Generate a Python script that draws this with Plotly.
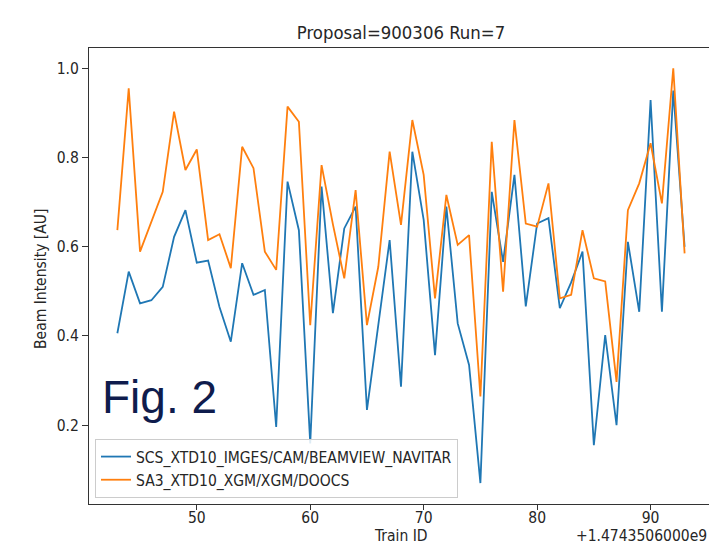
import plotly.graph_objects as go

# ---- data ----
train_offset = 1474350600
train_rel = list(range(43, 94))
scs_navitar = [0.406, 0.544, 0.473, 0.480, 0.510, 0.622, 0.682, 0.564, 0.569, 0.465,
               0.387, 0.563, 0.492, 0.503, 0.196, 0.746, 0.637, 0.159, 0.735, 0.451,
               0.641, 0.690, 0.234, 0.428, 0.615, 0.286, 0.813, 0.660, 0.357, 0.690,
               0.428, 0.335, 0.070, 0.723, 0.566, 0.761, 0.466, 0.652, 0.664, 0.462,
               0.520, 0.589, 0.155, 0.402, 0.200, 0.611, 0.454, 0.929, 0.454, 0.950,
               0.600]
sa3_xgm = [0.637, 0.955, 0.589, 0.656, 0.723, 0.903, 0.772, 0.818, 0.615, 0.628,
           0.552, 0.824, 0.776, 0.589, 0.548, 0.914, 0.880, 0.424, 0.783, 0.650,
           0.529, 0.727, 0.424, 0.555, 0.813, 0.649, 0.884, 0.761, 0.484, 0.716,
           0.604, 0.626, 0.264, 0.835, 0.499, 0.884, 0.652, 0.645, 0.742, 0.484,
           0.492, 0.637, 0.529, 0.522, 0.297, 0.682, 0.742, 0.832, 0.697, 1.000,
           0.585]
series_names = ["SCS_XTD10_IMGES/CAM/BEAMVIEW_NAVITAR", "SA3_XTD10_XGM/XGM/DOOCS"]
x_tick_labels = ["50", "60", "70", "80", "90"]
y_tick_labels = ["0.2", "0.4", "0.6", "0.8", "1.0"]

train_ids = [train_offset + r for r in train_rel]

# ---- layout geometry ----
W, H = 709, 546
L, R, T, B = 89, 0, 48, 42
PW, PH = W - L - R, H - T - B

def px_x(p):
    return (p - L) / PW

def px_y(p):
    return (H - B - p) / PH

FONT = "DejaVu Sans Condensed, DejaVu Sans, sans-serif"
TXT = "#262626"
FS = 15.5

fig = go.Figure()
fig.add_trace(go.Scatter(x=train_ids, y=scs_navitar, mode="lines", name=series_names[0],
                         line=dict(color="#1f77b4", width=1.8)))
fig.add_trace(go.Scatter(x=train_ids, y=sa3_xgm, mode="lines", name=series_names[1],
                         line=dict(color="#ff7f0e", width=1.8)))

fig.update_layout(
    width=W, height=H,
    margin=dict(l=L, r=R, t=T, b=B, pad=0),
    paper_bgcolor="white", plot_bgcolor="white",
    font=dict(family=FONT, size=FS, color=TXT),
    showlegend=True,
    legend=dict(x=px_x(95), y=px_y(498), xanchor="left", yanchor="bottom",
                bgcolor="rgba(255,255,255,0.85)", bordercolor="#cccccc", borderwidth=1,
                font=dict(family=FONT, size=FS, color=TXT), tracegroupgap=0),
    title=dict(text="Proposal=900306 Run=7", x=401 / W, xref="container", xanchor="center",
               y=1 - 33 / H, yref="container", yanchor="middle",
               font=dict(family=FONT, size=18.4, color=TXT)),
)

fig.update_xaxes(
    range=[train_offset + 40.5, train_offset + 40.5 + PW / 11.345],
    tickvals=[train_offset + int(t) for t in x_tick_labels], ticktext=x_tick_labels,
    showgrid=False, zeroline=False, showline=True, linecolor="#333333", linewidth=1.2,
    mirror=True, ticks="outside", ticklen=5, tickcolor="#333333", ticklabelstandoff=-6,
    tickfont=dict(family=FONT, size=FS, color=TXT),
)
fig.update_yaxes(
    range=[0.0231, 1.0455],
    tickvals=[float(t) for t in y_tick_labels], ticktext=y_tick_labels,
    showgrid=False, zeroline=False, showline=True, linecolor="#333333", linewidth=1.2,
    mirror=False, ticks="outside", ticklen=6, tickcolor="#333333",
    tickfont=dict(family=FONT, size=FS, color=TXT),
)

annotations = [
    dict(text="Beam Intensity [AU]", x=px_x(41), y=px_y(279), xref="paper", yref="paper",
         textangle=-90, showarrow=False, xanchor="center", yanchor="middle",
         font=dict(family=FONT, size=FS, color=TXT)),
    dict(text="Train ID", x=px_x(401), y=px_y(546), xref="paper", yref="paper",
         showarrow=False, xanchor="center", yanchor="bottom", borderpad=0,
         font=dict(family=FONT, size=FS, color=TXT)),
    dict(text="+1.4743506000e9", x=px_x(575), y=px_y(546), xref="paper", yref="paper",
         showarrow=False, xanchor="left", yanchor="bottom", borderpad=0,
         font=dict(family=FONT, size=FS, color=TXT)),
    dict(text="Fig. 2", x=px_x(100), y=px_y(397), xref="paper", yref="paper",
         showarrow=False, xanchor="left", yanchor="middle",
         font=dict(family="Liberation Sans, Arial, sans-serif", size=46, color="#0f1c4d")),
]
fig.update_layout(annotations=annotations)

fig.write_html("out.html", config={"displayModeBar": False},
               post_script="document.body.style.margin='0';document.body.style.overflow='hidden';")
